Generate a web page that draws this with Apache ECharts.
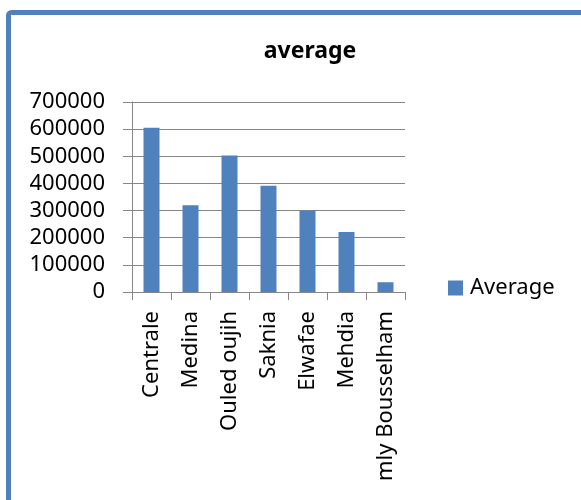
<!DOCTYPE html>
<html>
<head>
<meta charset="utf-8">
<script src="https://cdn.jsdelivr.net/npm/echarts@6/dist/echarts.min.js"></script>
<style>
  html, body { margin: 0; padding: 0; background: #fff; }
  #chart { width: 581px; height: 500px; }
</style>
</head>
<body>
<div id="chart"></div>
<script>
// Data
const categories = ['Centrale', 'Medina', 'Ouled oujih', 'Saknia', 'Elwafae', 'Mehdia', 'mly Bousselham'];
const averageValues = [605000, 320000, 503000, 391000, 300000, 221000, 36000];
const seriesName = 'Average';
const chartTitle = 'average';

const font = '"Noto Sans", sans-serif';
const grey = '#868686';

const chart = echarts.init(document.getElementById('chart'));

const option = {
  animation: false,
  title: {
    text: chartTitle,
    left: 305,
    top: 35,
    textAlign: 'center',
    textStyle: { fontFamily: font, fontSize: 23, fontWeight: 'bold', color: '#000' }
  },
  legend: {
    data: [seriesName],
    left: 448,
    top: 277,
    padding: 0,
    icon: 'rect',
    itemWidth: 15,
    itemHeight: 15,
    textStyle: { fontFamily: font, fontSize: 22, color: '#000', padding: [0, 0, 0, 2] }
  },
  // chart frame (only top and left edges are visible)
  graphic: [{
    type: 'rect',
    shape: { x: 8.5, y: 12.5, width: 700, height: 700, r: 3 },
    style: { fill: 'none', stroke: '#4F81BD', lineWidth: 5 },
    silent: true
  }],
  grid: { left: 132, right: 176, top: 102, bottom: 208 },
  xAxis: {
    type: 'category',
    data: categories,
    axisLine: { lineStyle: { color: grey, width: 1 } },
    axisTick: { show: true, length: 8, lineStyle: { color: grey } },
    axisLabel: {
      rotate: 90,
      margin: 19,
      interval: 0,
      fontFamily: font,
      fontSize: 22,
      color: '#000'
    }
  },
  yAxis: {
    type: 'value',
    min: 0,
    max: 700000,
    interval: 100000,
    axisLine: { show: true, lineStyle: { color: grey, width: 1 } },
    axisTick: { show: true, length: 9, lineStyle: { color: grey } },
    splitLine: { lineStyle: { color: grey, width: 1 } },
    axisLabel: {
      margin: 27,
      fontFamily: font,
      fontSize: 22,
      color: '#000',
      formatter: (v) => String(v)
    }
  },
  series: [{
    name: seriesName,
    type: 'bar',
    data: averageValues,
    barWidth: 16,
    itemStyle: { color: '#4F81BD' }
  }]
};

chart.setOption(option);
</script>
</body>
</html>
